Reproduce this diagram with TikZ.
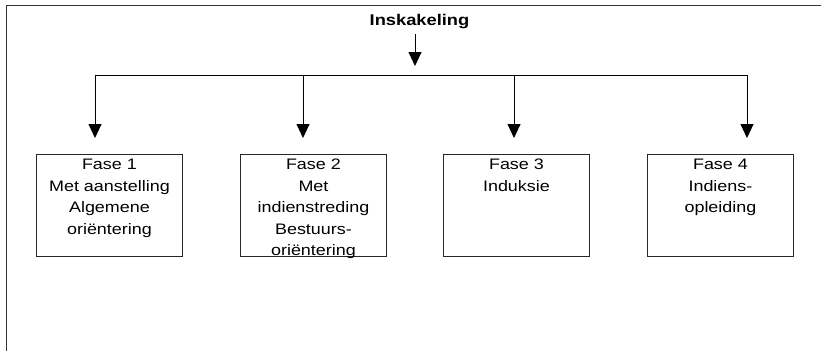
\documentclass[tikz,border=0pt]{standalone}
\usepackage{fontspec}
\setmainfont{Liberation Sans}
\newfontfamily\phasefont[FakeStretch=1.18]{Liberation Sans}
\usetikzlibrary{arrows.meta}
\begin{document}
\begin{tikzpicture}[x=1pt,y=-1pt,
  frameline/.style={line width=0.9pt, draw=black!80},
  link/.style={line width=0.9pt, draw=black},
  flow/.style={link, -{Triangle[length=14pt,width=13pt]}},
  phasebox/.style={draw=black!85, line width=0.9pt, minimum width=146pt,
    minimum height=102pt, inner sep=0pt, anchor=north west},
  phasetext/.style={anchor=north, inner sep=0pt, align=center,
    font=\phasefont\fontsize{15.2}{21.5}\selectfont},
  titletext/.style={inner sep=0pt, anchor=base,
    font=\phasefont\bfseries\fontsize{15.5}{18}\selectfont}]
  \useasboundingbox (0,0) rectangle (821,351);

  % open frame: left and top edges only
  \draw[frameline] (6,351) -- (6,5) -- (821,5);

  % heading and the arrow into the distribution line
  \node[titletext] (title) at (419.5,25) {Inskakeling};
  \coordinate (split) at (415,75);
  \draw[flow, shorten <=6pt, shorten >=9pt] (title.south -| split) -- (split);

  % the four phases
  \node[phasebox] (f1) at (36,154) {};
  \node[phasebox] (f2) at (240,154) {};
  \node[phasebox] (f3) at (443,154) {};
  \node[phasebox] (f4) at (647,154) {};

  \node[phasetext] (t1) at ([yshift=-5pt]f1.north) {Fase 1\\Met aanstelling\\Algemene\\oriëntering};
  \node[phasetext] (t2) at ([yshift=-5pt]f2.north) {Fase 2\\Met\\indienstreding\\Bestuurs-\\oriëntering};
  \node[phasetext] (t3) at ([yshift=-5pt]f3.north) {Fase 3\\Induksie};
  \node[phasetext] (t4) at ([yshift=-5pt]f4.north) {Fase 4\\Indiens-\\opleiding};

  % distribution line and drop arrows
  \coordinate (d1) at (95,75);
  \coordinate (d2) at (303,75);
  \coordinate (d3) at (514,75);
  \coordinate (d4) at (747,75);
  \draw[link, line cap=rect] (d1) -- (d4);
  \draw[flow, shorten >=16pt] (d1) -- (d1 |- f1.north);
  \draw[flow, shorten >=16pt] (d2) -- (d2 |- f2.north);
  \draw[flow, shorten >=16pt] (d3) -- (d3 |- f3.north);
  \draw[flow, shorten >=16pt] (d4) -- (d4 |- f4.north);
\end{tikzpicture}
\end{document}
